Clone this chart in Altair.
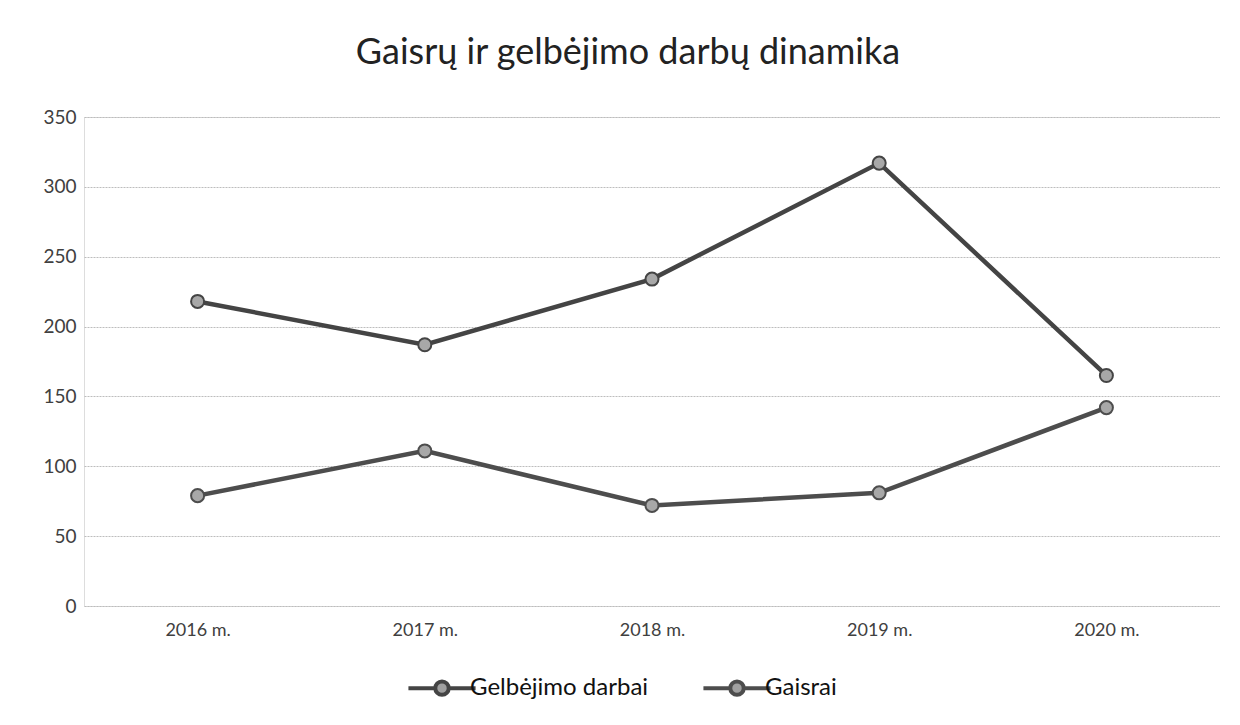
import altair as alt
import pandas as pd

years = ["2016 m.", "2017 m.", "2018 m.", "2019 m.", "2020 m."]
gelbejimo = [218, 187, 234, 317, 165]
gaisrai = [79, 111, 72, 81, 142]
series_names = ["Gelbėjimo darbai", "Gaisrai"]
line_colors = ["#444444", "#4d4d4d"]

rows = []
for y, v in zip(years, gelbejimo):
    rows.append({"Metai": y, "Serija": series_names[0], "Reikšmė": v})
for y, v in zip(years, gaisrai):
    rows.append({"Metai": y, "Serija": series_names[1], "Reikšmė": v})
df = pd.DataFrame(rows)

FONT = "Lato"
legend_path = ("M-0.28,0 A0.28,0.28 0 1,0 0.28,0 A0.28,0.28 0 1,0 -0.28,0 Z "
               "M-1.4,0 L-0.28,0 M0.28,0 L1.4,0")

x_enc = alt.X("Metai:N", sort=years,
              scale=alt.Scale(type="point", padding=0.5),
              axis=alt.Axis(title=None, labelAngle=0, ticks=False, domain=False,
                            labelFontSize=18, labelColor="#404040", labelFont=FONT,
                            labelPadding=15, grid=False))
y_enc = alt.Y("Reikšmė:Q",
              scale=alt.Scale(domain=[0, 350], nice=False),
              axis=alt.Axis(title=None, values=[0, 50, 100, 150, 200, 250, 300, 350],
                            ticks=False, domain=False, labelFontSize=19,
                            labelColor="#404040", labelFont=FONT, labelPadding=8,
                            gridColor="#bdbdbd", gridWidth=1, gridDash=[2, 1]))
color_enc = alt.Color("Serija:N", sort=series_names,
                      scale=alt.Scale(domain=series_names, range=line_colors),
                      legend=alt.Legend(title=None, orient="none", direction="horizontal",
                                        legendX=332, legendY=545,
                                        labelFontSize=24, labelFont=FONT, labelColor="#111111",
                                        labelLimit=400,
                                        symbolType=legend_path, symbolSize=2300,
                                        symbolStrokeWidth=4, symbolFillColor="#a0a0a0",
                                        columnPadding=46, labelOffset=2))

lines = alt.Chart(df).mark_line(strokeWidth=4.5).encode(x=x_enc, y=y_enc, color=color_enc)
points = alt.Chart(df).mark_point(filled=True, size=170, fill="#a8a8a8",
                                  strokeWidth=2, opacity=1).encode(
    x=x_enc, y=y_enc, stroke=alt.Stroke("Serija:N", scale=alt.Scale(domain=series_names, range=line_colors), legend=None))

chart = alt.layer(lines, points).properties(
    width=1136, height=489,
    title=alt.Title("Gaisrų ir gelbėjimo darbų dinamika", fontSize=36, font=FONT,
                    fontWeight="normal", color="#222222", anchor="middle", offset=36,
                    dx=-24),
    autosize=alt.AutoSizeParams(type="none"),
    padding={"left": 76, "top": 109, "right": 0, "bottom": 110},
).configure_view(stroke=None).configure(background="white")

chart.save("out.html", embed_options={"renderer": "svg", "actions": False})
